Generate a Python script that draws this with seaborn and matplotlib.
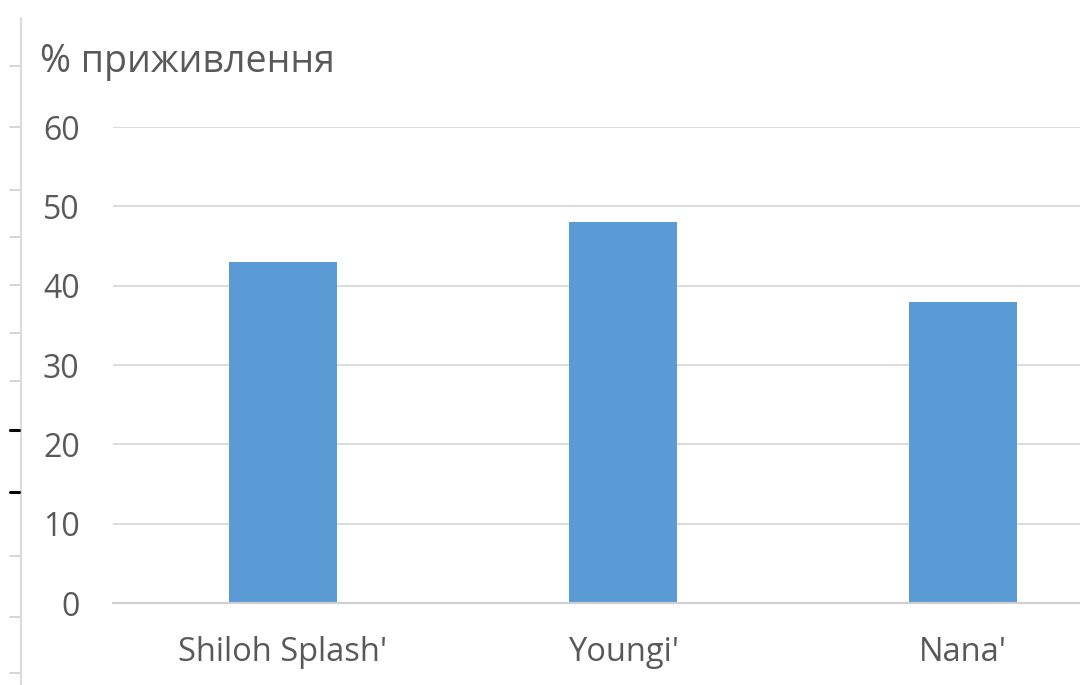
import matplotlib
matplotlib.use("Agg")
import matplotlib.pyplot as plt
import seaborn as sns
import pandas as pd
from matplotlib.lines import Line2D

# values
varieties = ["Shiloh Splash'", "Youngi'", "Nana'"]
survival = [43, 48, 38]
yticks = [0, 10, 20, 30, 40, 50, 60]
title = "% приживлення"

df = pd.DataFrame({"variety": varieties, "survival": survival})

sns.set_style("white")
plt.rcParams["font.family"] = ["Open Sans", "DejaVu Sans"]

text_col = "#595959"
grid_col = "#d9d9d9"

fig = plt.figure(figsize=(10.8, 6.85), dpi=100)
ax = fig.add_axes([113 / 1080, 1 - 603 / 685, 1020 / 1080, (603 - 127) / 685])

sns.barplot(data=df, x="variety", y="survival", ax=ax, color="#5b9bd5",
            width=0.315, saturation=1, edgecolor="none")

ax.set_ylim(0, 60)
ax.set_xlim(-0.5, 2.5)
ax.set_yticks(yticks)
ax.yaxis.grid(True, color=grid_col, linewidth=1.3)
ax.set_axisbelow(True)
for s in ["left", "right", "top"]:
    ax.spines[s].set_visible(False)
ax.spines["bottom"].set_color("#cfcfcf")
ax.spines["bottom"].set_linewidth(1.5)
ax.tick_params(axis="both", length=0, labelsize=23, labelcolor=text_col)
ax.tick_params(axis="y", pad=24)
ax.tick_params(axis="x", pad=24)
for lab in ax.get_xticklabels():
    lab.set_fontsize(23.5)
ax.set_xlabel("")
ax.set_ylabel("")

fig.text(40 / 1080, 1 - 62 / 685, title, fontsize=27, color=text_col,
         ha="left", va="center")

# ruler strip along the left edge
fig.add_artist(Line2D([21 / 1080, 21 / 1080], [0, 1 - 18 / 685],
                      color="#dcdcdc", linewidth=1.5))
ruler = [66, 127, 190, 237, 285, 333, 381, 556, 617, 673]
for y in ruler:
    fig.add_artist(Line2D([10 / 1080, 20 / 1080], [1 - y / 685] * 2,
                          color="#d0d0d0", linewidth=1.2))
for y in [430, 492]:
    fig.add_artist(Line2D([10 / 1080, 19 / 1080], [1 - y / 685] * 2,
                          color="black", linewidth=2.2))

fig.savefig("out.png", dpi=100)
